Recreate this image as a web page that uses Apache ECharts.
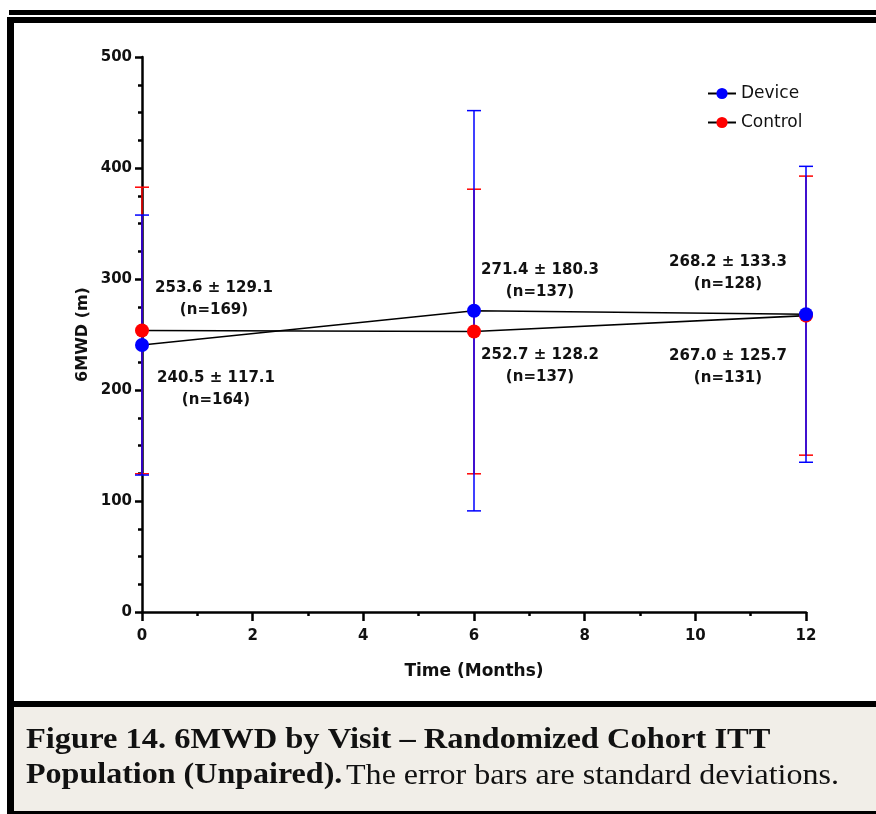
<!DOCTYPE html>
<html>
<head>
<meta charset="utf-8">
<script src="https://cdn.jsdelivr.net/npm/echarts@6/dist/echarts.min.js"></script>
<style>
html,body{margin:0;padding:0;background:#fff;}
#chart{width:876px;height:814px;}
</style>
</head>
<body>
<div id="chart"></div>
<script>
// ---- data ----
const months = [0, 6, 12];
const deviceMean = [240.5, 271.4, 268.2];
const deviceSD = [117.1, 180.3, 133.3];
const deviceN = [164, 137, 128];
const controlMean = [253.6, 252.7, 267.0];
const controlSD = [129.1, 128.2, 125.7];
const controlN = [169, 137, 131];
const yTicks = [0, 100, 200, 300, 400, 500];
const xTicks = [0, 2, 4, 6, 8, 10, 12];

// label placement (layout only)
const deviceLabelOffsets = [[74, 44], [66, -30], [-78, -41]];
const controlLabelOffsets = [[72, -31], [66, 35], [-78, 51]];

const BLUE = '#0000ff';
const RED = '#ff0000';
const FONT = 'DejaVu Sans';

function lineData(mean, sd, n, offs) {
  return months.map((m, i) => ({
    value: [m, mean[i]],
    sd: sd[i], n: n[i],
    label: { offset: offs[i] }
  }));
}
function errData(mean, sd) {
  return months.map((m, i) => [m, mean[i] - sd[i], mean[i] + sd[i]]);
}
function errRender(color) {
  return function (params, api) {
    const x = api.value(0), lo = api.value(1), hi = api.value(2);
    const p1 = api.coord([x, hi]), p2 = api.coord([x, lo]);
    const w = 7;
    const st = { stroke: color, lineWidth: 1.5 };
    return {
      type: 'group',
      children: [
        { type: 'line', shape: { x1: p1[0], y1: p1[1], x2: p2[0], y2: p2[1] }, style: st },
        { type: 'line', shape: { x1: p1[0] - w, y1: p1[1], x2: p1[0] + w, y2: p1[1] }, style: st },
        { type: 'line', shape: { x1: p2[0] - w, y1: p2[1], x2: p2[0] + w, y2: p2[1] }, style: st }
      ]
    };
  };
}
const labelFmt = function (p) {
  const d = p.data;
  return d.value[1].toFixed(1) + ' \u00b1 ' + d.sd.toFixed(1) + '\n(n=' + d.n + ')';
};
const labelStyle = {
  show: true, position: 'inside', formatter: labelFmt,
  fontFamily: FONT, fontWeight: 'bold', fontSize: 15, color: '#111',
  lineHeight: 22, align: 'center', verticalAlign: 'middle'
};

const chart = echarts.init(document.getElementById('chart'), null, { renderer: 'canvas' });
chart.setOption({
  animation: false,
  backgroundColor: '#ffffff',
  grid: { left: 142, right: 70, top: 57, bottom: 202, containLabel: false },
  legend: {
    data: ['Device', 'Control'],
    orient: 'vertical',
    left: 702, top: 80,
    itemWidth: 28, itemHeight: 14, itemGap: 12,
    textStyle: { fontFamily: FONT, fontSize: 17, color: '#111' }
  },
  xAxis: {
    type: 'value', min: 0, max: 12, interval: 2,
    name: 'Time (Months)', nameLocation: 'middle', nameGap: 51, nameMoveOverlap: false,
    nameTextStyle: { fontFamily: FONT, fontWeight: 'bold', fontSize: 17, color: '#111' },
    axisLine: { show: true, lineStyle: { color: '#000', width: 2.5 } },
    axisTick: { show: true, inside: false, length: 9, lineStyle: { color: '#000', width: 2.5 } },
    minorTick: { show: true, splitNumber: 2, length: 4, lineStyle: { color: '#000', width: 2.5 } },
    splitLine: { show: false },
    axisLabel: {
      margin: 17, fontFamily: FONT, fontWeight: 'bold', fontSize: 15, color: '#111',
      formatter: v => (xTicks.includes(v) ? String(v) : '')
    }
  },
  yAxis: {
    type: 'value', min: 0, max: 500, interval: 100,
    name: '6MWD (m)', nameLocation: 'middle', nameGap: 51, nameMoveOverlap: false,
    nameTextStyle: { fontFamily: FONT, fontWeight: 'bold', fontSize: 16, color: '#111' },
    axisLine: { show: true, lineStyle: { color: '#000', width: 2.5 } },
    axisTick: { show: true, inside: false, length: 7, lineStyle: { color: '#000', width: 2.5 } },
    minorTick: { show: true, splitNumber: 4, length: 4, lineStyle: { color: '#000', width: 2.5 } },
    splitLine: { show: false },
    axisLabel: {
      margin: 10, fontFamily: FONT, fontWeight: 'bold', fontSize: 15, color: '#111',
      formatter: v => (yTicks.includes(v) ? String(v) : '')
    }
  },
  series: [
    {
      name: 'Control SD', type: 'custom', renderItem: errRender(RED),
      data: errData(controlMean, controlSD), encode: { x: 0, y: [1, 2] }, z: 2, silent: true
    },
    {
      name: 'Device SD', type: 'custom', renderItem: errRender(BLUE),
      data: errData(deviceMean, deviceSD), encode: { x: 0, y: [1, 2] }, z: 3, silent: true
    },
    {
      name: 'Control', type: 'line', symbol: 'circle', symbolSize: 14, z: 4,
      lineStyle: { color: '#000', width: 1.6 },
      itemStyle: { color: RED },
      label: labelStyle,
      data: lineData(controlMean, controlSD, controlN, controlLabelOffsets)
    },
    {
      name: 'Device', type: 'line', symbol: 'circle', symbolSize: 14, z: 5,
      lineStyle: { color: '#000', width: 1.6 },
      itemStyle: { color: BLUE },
      label: labelStyle,
      data: lineData(deviceMean, deviceSD, deviceN, deviceLabelOffsets)
    }
  ],
  graphic: [
    { type: 'rect', shape: { x: 9, y: 10, width: 867, height: 5 }, style: { fill: '#000' }, z: 10 },
    { type: 'rect', shape: { x: 7, y: 17, width: 869, height: 6 }, style: { fill: '#000' }, z: 10 },
    { type: 'rect', shape: { x: 7, y: 17, width: 7, height: 797 }, style: { fill: '#000' }, z: 10 },
    { type: 'rect', shape: { x: 7, y: 701, width: 869, height: 6 }, style: { fill: '#000' }, z: 10 },
    { type: 'rect', shape: { x: 14, y: 707, width: 862, height: 104 }, style: { fill: '#f1eee8' }, z: 9 },
    { type: 'rect', shape: { x: 7, y: 811, width: 869, height: 3 }, style: { fill: '#000' }, z: 10 },
    {
      type: 'text', x: 26, y: 741, scaleX: 1.12, z: 11,
      style: {
        text: 'Figure 14. 6MWD by Visit \u2013 Randomized Cohort ITT',
        fontFamily: 'Liberation Serif', fontWeight: 'bold', fontSize: 29, fill: '#111',
        verticalAlign: 'middle'
      }
    },
    {
      type: 'text', x: 26, y: 776, scaleX: 1.105, z: 11,
      style: {
        text: '{b|Population (Unpaired).} {n|The error bars are standard deviations.}',
        verticalAlign: 'middle',
        rich: {
          b: { fontFamily: 'Liberation Serif', fontWeight: 'bold', fontSize: 29, fill: '#111' },
          n: { fontFamily: 'Liberation Serif', fontWeight: 'normal', fontSize: 29, fill: '#111' }
        }
      }
    }
  ]
});
</script>
</body>
</html>
